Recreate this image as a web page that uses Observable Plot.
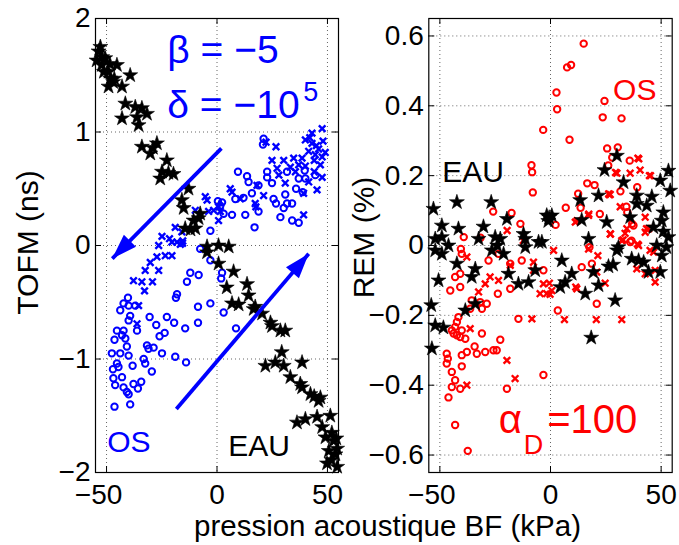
<!DOCTYPE html>
<html><head><meta charset="utf-8">
<script src="https://cdn.jsdelivr.net/npm/d3@7"></script>
<script src="https://cdn.jsdelivr.net/npm/@observablehq/plot@0.6"></script>
<style>
body{margin:0;background:#fff;}
#wrap{position:relative;width:679px;height:545px;overflow:hidden;font-family:"Liberation Sans",Arial,Helvetica,sans-serif;background:#fff;}
#left{position:absolute;left:0;top:0;}
#right{position:absolute;left:345px;top:0;}
#xlabel{position:absolute;left:0;top:517px;width:775px;text-align:center;font-size:29.5px;line-height:18px;color:#000;white-space:nowrap;}
</style>
</head><body>
<div id="wrap"><div id="left"></div><div id="right"></div><div id="xlabel">pression acoustique BF (kPa)</div></div>
<script>
const BLUE = "#0000ff", RED = "#ff0000";
const FONT = "Liberation Sans, Arial, Helvetica, sans-serif";
const xTicks = [-50, 0, 50];
const tofmTicks = [-2, -1, 0, 1, 2];
const remTicks = [-0.6, -0.4, -0.2, 0, 0.2, 0.4, 0.6];

// Left panel: TOFM (ns)
const tofmEau = [[-52.8,1.75],[-53.6,1.71],[-52.0,1.66],[-50.6,1.65],[-54.5,1.63],[-52.2,1.59],[-48.5,1.60],[-45.3,1.59],[-51.2,1.53],[-49.1,1.53],[-39.3,1.50],[-48.3,1.47],[-46.5,1.47],[-49.1,1.40],[-43,1.40],[-47,1.44],
[-41.5,1.25],[-37,1.22],[-34,1.21],[-43,1.12],[-36.2,1.13],[-31.7,1.16],[-35.5,1.06],
[-34,0.87],[-30.2,0.81],[-27.2,0.90],[-29,0.86],[-22.7,0.75],[-24.9,0.65],[-19.7,0.63],[-25.7,0.59],[-22,0.64],
[-12.9,0.50],[-15.9,0.40],[-15.1,0.33],[-7.6,0.28],[-8.3,0.24],[-10.6,0.22],[-14.4,0.15],[-9.8,0.15],[-12,0.14],
[-4.5,-0.01],[0.7,0.0],[5.3,-0.01],[-4.5,-0.06],[0.7,-0.16],[7.5,-0.23],[4.4,-0.37],[13.6,-0.34],[14.3,-0.44],[6.8,-0.51],[9.8,-0.52],[17.3,-0.54],[16.6,-0.56],[20.4,-0.60],[24.2,-0.68],[24.9,-0.71],[28.7,-0.75],[30.9,-0.75],[29.3,-0.94],
[21.9,-1.06],[26.4,-1.03],[30.2,-1.06],[38.5,-1.03],[33.2,-1.16],[37.7,-1.22],[38.5,-1.25],[42.3,-1.31],[46.8,-1.34],[46,-1.37],[44,-1.33],
[36.2,-1.56],[40,-1.53],[45.3,-1.51],[51.3,-1.50],[47.6,-1.60],[49.1,-1.69],[52.8,-1.72],[50.6,-1.81],[53.6,-1.84],[49.8,-1.92],[54.4,-1.95],[51.8,-1.89],[54.4,-1.79],[52,-1.65],[54,-1.70]];

const tofmOsCircle = [[-40.3,-0.46],[-43.8,-0.57],[-42.3,-0.51],[-40,-0.53],[-37,-0.53],[-39.3,-0.62],[-40,-0.66],[-36.2,-0.75],[-45.3,-0.75],[-42.3,-0.75],[-43,-0.79],[-46.4,-0.83],[-41.5,-0.82],[-40.8,-0.89],[-47.6,-0.95],[-43.8,-0.95],[-40,-0.97],[-45.3,-1.04],[-44.6,-1.07],[-38.2,-1.06],[-33.2,-1.00],[-32.5,-1.04],[-29.5,-1.11],[-31.7,-0.88],[-31,-0.91],[-28.7,-0.90],[-24.9,-0.95],[-18.9,-0.98],[-14,-1.03],[-30.5,-0.63],[-27.5,-0.70],[-26,-0.80],[-23.7,-0.77],[-22.7,-0.63],[-19.4,-0.68],[-14.4,-0.73],[-18.6,-0.46],[-18.1,-0.43],[-13.6,-0.32],[-12.1,-0.24],[-8.3,-0.26],[-8.6,-0.54],[-8.6,-0.68],[-3,-0.51],[-3,-0.13],[-46.9,-1.17],[-46.1,-1.23],[-43,-1.16],[-42.3,-1.25],[-40.8,-1.29],[-40,-1.31],[-37.8,-1.22],[-35.8,-1.26],[-34.3,-1.20],[-46.4,-1.42],[-39.3,-1.40],[-47.1,-1.09],
[2.3,-0.24],[1.9,-0.29],[3,-0.59],[8.6,-0.73],[-7.6,-0.03],[-3,0.13],[3,0.28],
[21.1,0.94],[20.8,0.89],[9.5,0.65],[13.6,0.61],[14.3,0.56],[15.8,0.46],[18.8,0.53],[22.7,0.65],[22.7,0.60],[24.9,0.55],[8.3,0.41],[12,0.42],[18.8,0.30],[12.8,0.27],[6.8,0.27],[2.3,0.38],[17,0.16],[25.6,0.41],[26.7,0.37],[30.9,0.45],[31.7,0.37],[30.2,0.33],[34,0.37],[28.7,0.25],[34,0.22],[37,0.20],[35.8,0.50],[38.8,0.47],[31.7,0.65],[37,0.59],[40,0.59],[44.5,0.62],[39.7,0.66],[0.4,0.39],[1.5,0.35]];

const tofmOsCross = [[47.6,1.03],[43,0.99],[40,0.93],[43,0.90],[46,0.85],[44.5,0.80],[47.6,0.78],[41.5,0.83],[38.5,0.77],[34.7,0.77],[30.2,0.75],[33.2,0.69],[24.9,0.75],[26.7,0.87],[22.2,0.91],[46.8,0.71],[44,0.65],[47.6,0.60],[41.5,0.56],[45.3,0.49],[39.2,0.46],[35.5,0.65],[27.2,0.68],[37,0.71],[40,0.70],[6,0.50],[6.8,0.47],[10.6,0.41],[18.1,0.53],[21.1,0.44],[17.3,0.37],[17.6,0.34],[39.2,0.27],[1.5,0.30],[0.7,0.22],[42,0.95],[45,0.88],[48,0.92],[44,0.75],[49,0.82],[30.9,0.55],[28,0.62],
[-5.3,0.43],[-9.8,0.31],[-3.8,0.30],[-1.5,0.31],[-18.9,0.16],[-15.9,0.12],[-24.9,0.08],[-21.5,0.06],[-15.5,0.04],[-26.4,0.0],[-20.4,0.03],[-15.6,0.02],[-27.2,-0.10],[-23.4,-0.09],[-20.4,-0.09],[-30.2,-0.15],[-32.5,-0.22],[-26.4,-0.22],[-37.8,-0.31],[-34,-0.32],[-29.2,-0.32],[-32.8,-0.40],[-35.5,-0.53],[-36.2,-0.69],[-4.5,0.40],[0.7,0.34],[-18.1,0.03],[-16.6,0.01]];

// Right panel: REM (%)
const remOsCircle = [[15,0.578],[7.5,0.51],[9.3,0.517],[2.7,0.438],[3,0.39],[-3.3,0.331],[8.6,0.303],[24.4,0.414],[23.6,0.367],[32.1,0.364],[25.6,0.278],[30.4,0.281],[27.9,0.252],[26.1,0.229],[35.8,0.243],[-8.6,0.23],[-8.3,0.21],[-8,0.152],[16.6,0.178],[19.9,0.173],[12.5,0.148],[13.6,0.108],[22.3,0.09],[31.6,0.155],[34.3,0.111],[39.2,0.167],[6.9,0.108],[2.3,0.059],[-25.9,0.097],[-17.6,0.093],[-13.6,0.062],[-39.2,0.024],[-31.6,0.022],[36.6,0.014],[36.9,0.062],[34.7,0.095],[37.5,0.057],[17.6,-0.005],
[-40.1,-0.024],[-40.5,-0.01],[-40.8,-0.081],[-43.1,-0.09],[-40.8,-0.119],[-45.3,-0.129],[-28,-0.043],[-23.5,-0.024],[-18.2,-0.052],[-13,-0.043],[-3.2,-0.071],[-23.8,-0.138],[-18.2,-0.124],[-35.6,-0.157],[-31.8,-0.162],[-28.8,-0.167],[-31,-0.181],[-36.3,-0.181],[-41.6,-0.205],[-42.3,-0.219],[-43.1,-0.233],[-44.6,-0.243],[-43.8,-0.252],[-42.3,-0.257],[-40.1,-0.243],[-40.8,-0.262],[-38.5,-0.267],[-31,-0.252],[-22.7,-0.27],[-14.5,-0.21],[-25.8,-0.30],[-24.3,-0.30],[-29.5,-0.305],[-33.3,-0.31],[-37.8,-0.305],[-34.3,-0.289],[-40.1,-0.314],[-46.9,-0.31],[-46.4,-0.324],[-46.9,-0.338],[-40.1,-0.346],[-44.6,-0.362],[-43.1,-0.386],[-44.6,-0.405],[-40.8,-0.41],[-46.1,-0.435],[-19.7,-0.41],[-3.2,-0.371],[-43.1,-0.514],[-37.4,-0.588],
[36,0.01],[14.1,-0.062],[18.7,-0.052],[20.9,-0.167],[3.3,-0.186]];

const remOsCross = [[39.5,0.25],[40.5,0.216],[44.7,0.2],[36,0.207],[30,0.207],[27,0.146],[26.5,0.146],[11.2,0.067],[17.2,0.086],[27,0.033],[33.7,0.035],[31.5,0.111],[42.8,0.081],[44.3,0.048],[42.8,0.038],[39.8,0],[32.2,0.014],[34.5,0.048],[12,0.071],[17.3,0.09],[26.3,0.148],[29.4,0.209],[39.9,0.248],[45.2,0.2],[27.1,0.033],[32.8,0.016],[-19.6,0.043],[-12.3,0.014],[43.4,0.048],
[-37.8,-0.033],[-27.3,-0.09],[-29.5,-0.11],[-23.5,-0.1],[-18.2,-0.057],[-7.7,-0.048],[-7.7,-0.071],[-8.4,-0.21],[-36.3,-0.238],[-19.7,-0.329],[-16,-0.381],[-37.8,-0.4],[-3.2,-0.11],[-4.7,-0.138],[-1.7,-0.138],[-0.5,-0.108],[-32.5,-0.133],
[1.4,-0.014],[17.2,-0.01],[21.4,-0.029],[20.9,-0.076],[11.4,-0.119],[11.9,-0.124],[24.7,-0.108],[0.6,-0.129],[-0.2,-0.14],[6.3,-0.212],[20.7,-0.212],[32.2,-0.212],[39,-0.067],[42.8,-0.081],[47.3,-0.105],[47.3,-0.071],[45,-0.014],[46.6,-0.019],[39.3,0.004]];

const remEau = [[-52.9,0.105],[-42.3,0.124],[-26.8,0.124],[-19.7,0.076],[-49.1,0.057],[-41.6,0.048],[-30.3,0.054],[-49.1,0.024],[-52.1,0.019],[-32.5,0.019],[-25,0.024],[-22.7,0.019],[-12.2,0.033],[-11.4,0.019],[-5.4,0.01],[-1.7,0.086],[-1,0.07],
[30,0.257],[24.4,0.216],[33,0.181],[21.7,0.143],[13.4,0.13],[39,0.143],[45.8,0.14],[49.6,0.186],[53.3,0.214],[54.1,0.157],[39,0.119],[43.5,0.114],[0.6,0.086],[-0.6,0.08],[14.1,0.073],[25.4,0.067],[36,0.081],[51,0.095],[50.3,0.071],[46.5,0.052],[17.2,0.019],[30.7,-0.005],[51,0.04],[53.3,0.024],
[-52.1,-0.014],[-46.1,0],[-49.1,-0.024],[-42.3,-0.052],[-34,-0.067],[-35.6,-0.09],[-50.6,-0.1],[-26.5,-0.014],[-21.2,-0.024],[-19,-0.081],[-24.1,0],[-14.5,-0.11],[-9.9,-0.105],[-6.9,-0.071],[-11.4,-0.005],[-3.9,0.01],[-53.9,-0.171],[-34,-0.167],[-38.5,-0.186],[-52.1,-0.229],[-48.4,-0.235],[-53.6,-0.295],
[5.1,-0.043],[9.6,-0.081],[6.6,-0.105],[4.4,-0.119],[19.4,-0.076],[15.7,-0.138],[21.7,-0.114],[26.2,-0.06],[28.3,-0.055],[30,-0.014],[29.2,-0.157],[18.4,-0.264],[36.7,-0.038],[39.8,-0.043],[42.1,-0.048],[44.3,-0.076],[49.6,-0.076],[50.3,-0.029],[52.4,-0.005],[48,0]];

// Arrows (left panel), from -> to
const arrowFrom = [[2, 0.855], [-18.4, -1.44]];
const arrowTo = [[-47.4, -0.115], [41.5, -0.073]];

// Annotation labels
const leftNotes = [
  {x: -22.5, y: 1.714, t: "β = −5", size: 39, color: BLUE},
  {x: -22.5, y: 1.229, t: "δ = −10", size: 39, color: BLUE},
  {x: 39.0, y: 1.353, t: "5", size: 27, color: BLUE},
  {x: -49.7, y: -1.737, t: "OS", size: 30, color: BLUE},
  {x: 5.1, y: -1.766, t: "EAU", size: 30, color: "#000"}
];
const rightNotes = [
  {x: -48.9, y: 0.208, t: "EAU", size: 30, color: "#000"},
  {x: 28.3, y: 0.444, t: "OS", size: 30, color: RED},
  {x: -23.4, y: -0.501, t: "α", size: 40, color: RED},
  {x: -12.1, y: -0.573, t: "D", size: 27, color: RED},
  {x: -1.5, y: -0.501, t: "=100", size: 40, color: RED}
];

const fmt = d => d === 0 ? "0" : String(d).replace("-", "\u2212");
const H = 545, MT = 18, MB = 73;

function axesMarks(yTicks, fw, fh) {
  const gridStyle = {stroke: "#000", strokeOpacity: 0.6, strokeDasharray: "1,3", strokeWidth: 1};
  return [
    Plot.gridX(xTicks, gridStyle),
    Plot.gridY(yTicks, gridStyle),
    Plot.tickY(yTicks, {y: d => d, insetRight: fw - 6, stroke: "#000"}),
    Plot.tickY(yTicks, {y: d => d, insetLeft: fw - 6, stroke: "#000"}),
    Plot.tickX(xTicks, {x: d => d, insetTop: fh - 6, stroke: "#000"}),
    Plot.tickX(xTicks, {x: d => d, insetBottom: fh - 6, stroke: "#000"}),
    Plot.axisY(yTicks, {tickSize: 0, tickPadding: 5, tickFormat: fmt, fontSize: 28, label: null}),
    Plot.axisX(xTicks.filter(d => d < 0), {tickSize: 0, tickPadding: 12, dx: -8, tickFormat: fmt, fontSize: 28, label: null}),
    Plot.axisX(xTicks.filter(d => d >= 0), {tickSize: 0, tickPadding: 12, tickFormat: fmt, fontSize: 28, label: null}),
    Plot.frame({stroke: "#000", strokeWidth: 1.2})
  ];
}

function notes(arr) {
  return arr.map(n => Plot.text([n], {x: "x", y: "y", text: "t", fill: n.color, fontSize: n.size, textAnchor: "start", lineAnchor: "middle"}));
}

const xy = {x: d => d[0], y: d => d[1]};
const circleStyle = c => ({...xy, symbol: "circle", r: 3.2, stroke: c, strokeWidth: 2, fill: "none"});
const crossStyle = c => ({...xy, symbol: "times", r: 3.1, stroke: c, strokeWidth: 2.4});
const starStyle = {...xy, symbol: "star", r: 4.7, fill: "#000", stroke: "#000", strokeWidth: 0.6};

const arrows = arrowFrom.map((f, i) => ({x1: f[0], y1: f[1], x2: arrowTo[i][0], y2: arrowTo[i][1]}));

const arrowMark = Plot.link(arrows, {
  x1: "x1", y1: "y1", x2: "x2", y2: "y2", stroke: BLUE, strokeWidth: 3.8,
  render(index, scales, values, dimensions, context, next) {
    const g = next(index, scales, values, dimensions, context);
    const X1 = values.x1, Y1 = values.y1, X2 = values.x2, Y2 = values.y2;
    for (const i of index) {
      const dx = X2[i] - X1[i], dy = Y2[i] - Y1[i], L = Math.hypot(dx, dy);
      const ux = dx / L, uy = dy / L, hl = 25, hw = 8.5;
      const bx = X2[i] - ux * hl, by = Y2[i] - uy * hl;
      const p = document.createElementNS("http://www.w3.org/2000/svg", "path");
      p.setAttribute("d", `M${X2[i]},${Y2[i]}L${bx - uy * hw},${by + ux * hw}L${bx + uy * hw},${by - ux * hw}Z`);
      p.setAttribute("fill", BLUE);
      p.setAttribute("stroke", "none");
      g.appendChild(p);
    }
    return g;
  }
});

const styleObj = {fontFamily: FONT, fontSize: "28px", color: "#000", background: "transparent", overflow: "visible"};

// Left plot
const LW = 345, LML = 95, LMR = 7;
const left = Plot.plot({
  width: LW, height: H, marginLeft: LML, marginRight: LMR, marginTop: MT, marginBottom: MB,
  style: styleObj,
  x: {domain: [-55, 55]},
  y: {domain: [-2, 2]},
  marks: [
    ...axesMarks(tofmTicks, LW - LML - LMR, H - MT - MB),
    Plot.dot(tofmOsCross, crossStyle(BLUE)),
    Plot.dot(tofmOsCircle, circleStyle(BLUE)),
    Plot.dot(tofmEau, starStyle),
    arrowMark,
    ...notes(leftNotes),
    Plot.text(["TOFM (ns)"], {text: d => d, frameAnchor: "left", textAnchor: "middle", lineAnchor: "middle", rotate: -90, dx: -67.6, dy: -3, fontSize: 30, fill: "#000"})
  ]
});
document.getElementById("left").appendChild(left);

// Right plot
const RW = 334, RML = 83.3, RMR = 7.3;
const right = Plot.plot({
  width: RW, height: H, marginLeft: RML, marginRight: RMR, marginTop: MT, marginBottom: MB,
  style: styleObj,
  x: {domain: [-55, 55]},
  y: {domain: [-0.65, 0.65]},
  marks: [
    ...axesMarks(remTicks, RW - RML - RMR, H - MT - MB),
    Plot.dot(remOsCircle, circleStyle(RED)),
    Plot.dot(remOsCross, crossStyle(RED)),
    Plot.dot(remEau, starStyle),
    ...notes(rightNotes),
    Plot.text(["REM (%)"], {text: d => d, frameAnchor: "left", textAnchor: "middle", lineAnchor: "middle", rotate: -90, dx: -64.9, dy: -8, fontSize: 30, fill: "#000"})
  ]
});
document.getElementById("right").appendChild(right);
</script>
</body></html>
